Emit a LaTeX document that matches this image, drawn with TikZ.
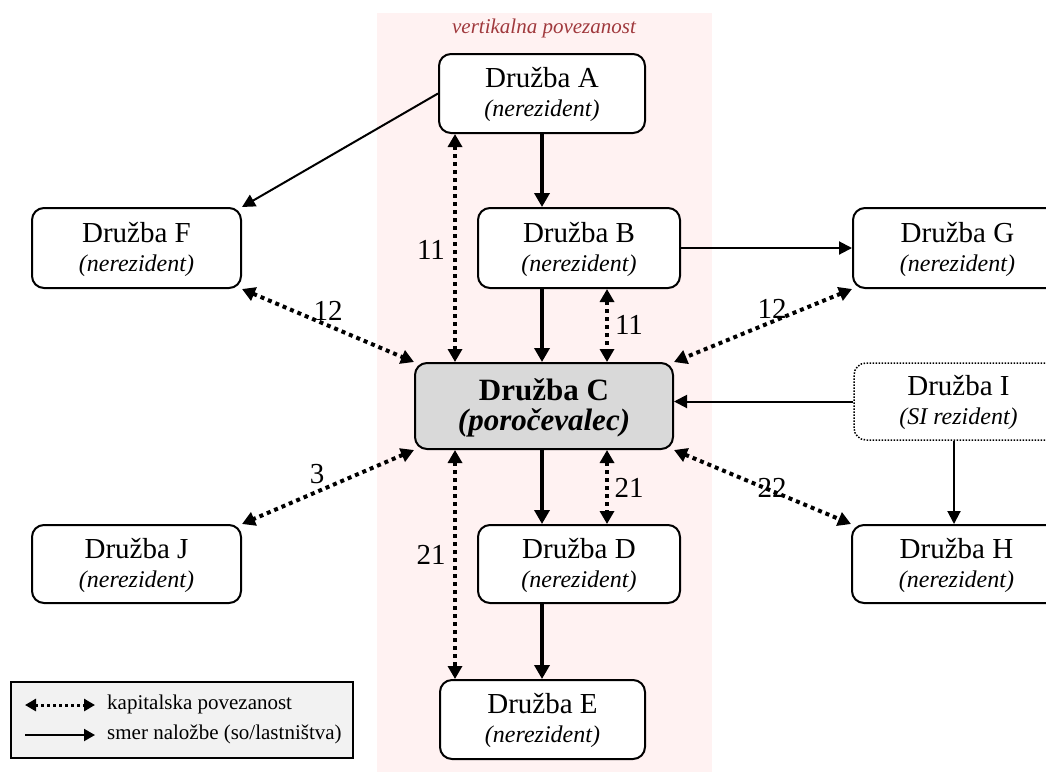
\documentclass[tikz,border=0pt]{standalone}
\usepackage{fontspec}
\setmainfont{Liberation Serif}
\usetikzlibrary{arrows.meta,calc}
\definecolor{band}{RGB}{255,242,242}
\definecolor{titlered}{RGB}{160,57,61}
\definecolor{cgray}{RGB}{217,217,217}
\definecolor{leggray}{RGB}{242,242,242}
\newcommand\firmfont{\fontsize{29}{32}\selectfont}
\newcommand\subfont{\fontsize{24}{26}\selectfont\itshape}
\tikzset{
 firmbox/.style={draw, line width=2pt, rounded corners=12pt, fill=white, inner sep=0pt},
 thickarr/.style={line width=4pt, -{Triangle[length=14pt,width=15pt]}},
 thinarr/.style={line width=2pt, -{Triangle[length=13pt,width=13pt]}},
 dotarr/.style={line width=4pt, dash pattern=on 4pt off 4pt, {Triangle[length=13pt,width=14pt]}-{Triangle[length=13pt,width=14pt]}},
 elabel/.style={font=\fontsize{29}{30}\selectfont, inner sep=0pt},
 legtext/.style={font=\fontsize{21}{24}\selectfont, inner sep=0pt, anchor=base west},
}
\newcommand\firmnode[7]{%
 \node[firmbox,#7,minimum width=#3pt,minimum height=#4pt] (#1) at (#2) {};
 \node[anchor=base,inner sep=0pt,font=\firmfont] (#1t) at ($(#1.center)+(0,-6)$) {#5};
 \node[anchor=base,inner sep=0pt,font=\subfont] (#1s) at ($(#1.center)+(0,23)$) {#6};
}
\begin{document}
\begin{tikzpicture}[x=1pt,y=-1pt]
\clip (0,0) rectangle (1046,772);
\fill[white] (0,0) rectangle (1046,772);
% band
\fill[band] (377,13) rectangle (712,772);
\node[font=\fontsize{21}{24}\selectfont\itshape, text=titlered, inner sep=0pt] (title) at (544,28) {vertikalna povezanost};
% nodes
\firmnode{A}{542,93.5}{206}{79}{Družba A}{(nerezident)}{}
\firmnode{B}{579,248}{202}{80}{Družba B}{(nerezident)}{}
\firmnode{F}{136.5,248}{209}{80}{Družba F}{(nerezident)}{}
\firmnode{G}{957.5,248}{209}{80}{Družba G}{(nerezident)}{}
\firmnode{I}{958.5,401.5}{209}{77}{Družba I}{(SI rezident)}{dash pattern=on 1.5pt off 1.5pt, line width=1.5pt}
\firmnode{J}{136.5,564}{209}{78}{Družba J}{(nerezident)}{}
\firmnode{D}{579,564}{202}{78}{Družba D}{(nerezident)}{}
\firmnode{H}{956.5,564}{209}{78}{Družba H}{(nerezident)}{}
\firmnode{E}{542.5,719.5}{205}{79}{Družba E}{(nerezident)}{}
% C
\node[firmbox, fill=cgray, minimum width=258pt, minimum height=86pt] (C) at (544,406) {};
\node[anchor=base,inner sep=0pt,font=\fontsize{31}{34}\selectfont\bfseries] (Ct) at ($(C.center)+(0,-6)$) {Družba C};
\node[anchor=base,inner sep=0pt,font=\fontsize{31}{34}\selectfont\bfseries\itshape] (Cs) at ($(C.center)+(0,24)$) {(poročevalec)};
% x positions
\coordinate (xm) at (542,0);
\coordinate (xl) at (455,0);
\coordinate (xr) at (607,0);
\coordinate (xi) at (954,0);
% solid thick
\draw[thickarr] (A.south -| xm) -- (B.north -| xm);
\draw[thickarr] (B.south -| xm) -- (C.north -| xm);
\draw[thickarr] (C.south -| xm) -- (D.north -| xm);
\draw[thickarr] (D.south -| xm) -- (E.north -| xm);
% thin
\draw[thinarr] (A.west) -- (F.north east);
\draw[thinarr] (B.east) -- (G.west);
\draw[thinarr] (I.west) -- (C.east |- I.west);
\draw[thinarr] (I.south -| xi) -- (H.north -| xi);
% dotted
\draw[dotarr] (A.south -| xl) -- (C.north -| xl);
\draw[dotarr] (B.south -| xr) -- (C.north -| xr);
\draw[dotarr] (C.south -| xr) -- (D.north -| xr);
\draw[dotarr] (C.south -| xl) -- (E.north -| xl);
\draw[dotarr] (F.south east) -- (C.north west);
\draw[dotarr] (G.south west) -- (C.north east);
\draw[dotarr] (C.south west) -- (J.north east);
\draw[dotarr] (C.south east) -- (H.north west);
% labels
\node[elabel] (l11a) at (431,250) {11};
\node[elabel] (l11b) at (629,325) {11};
\node[elabel] (l12a) at (328,311) {12};
\node[elabel] (l12b) at (772,309) {12};
\node[elabel] (l21a) at (431,555) {21};
\node[elabel] (l21b) at (629,488) {21};
\node[elabel] (l3) at (317,474) {3};
\node[elabel] (l22) at (772,488) {22};
% legend
\node[draw, line width=2pt, fill=leggray, minimum width=342pt, minimum height=76pt, inner sep=0pt] (leg) at (182,720) {};
\coordinate (la1) at (25,705);
\coordinate (lb1) at (95,705);
\coordinate (la2) at (25,735);
\coordinate (lb2) at (95,735);
\draw[line width=3pt, dash pattern=on 3pt off 3pt, {Triangle[length=11pt,width=12pt]}-{Triangle[length=11pt,width=12pt]}] (la1) -- (lb1);
\draw[line width=2pt, -{Triangle[length=11pt,width=12pt]}] (la2) -- (lb2);
\node[legtext] (lt1) at (107,709) {kapitalska povezanost};
\node[legtext] (lt2) at (107,739) {smer naložbe (so/lastništva)};
\end{tikzpicture}
\end{document}
